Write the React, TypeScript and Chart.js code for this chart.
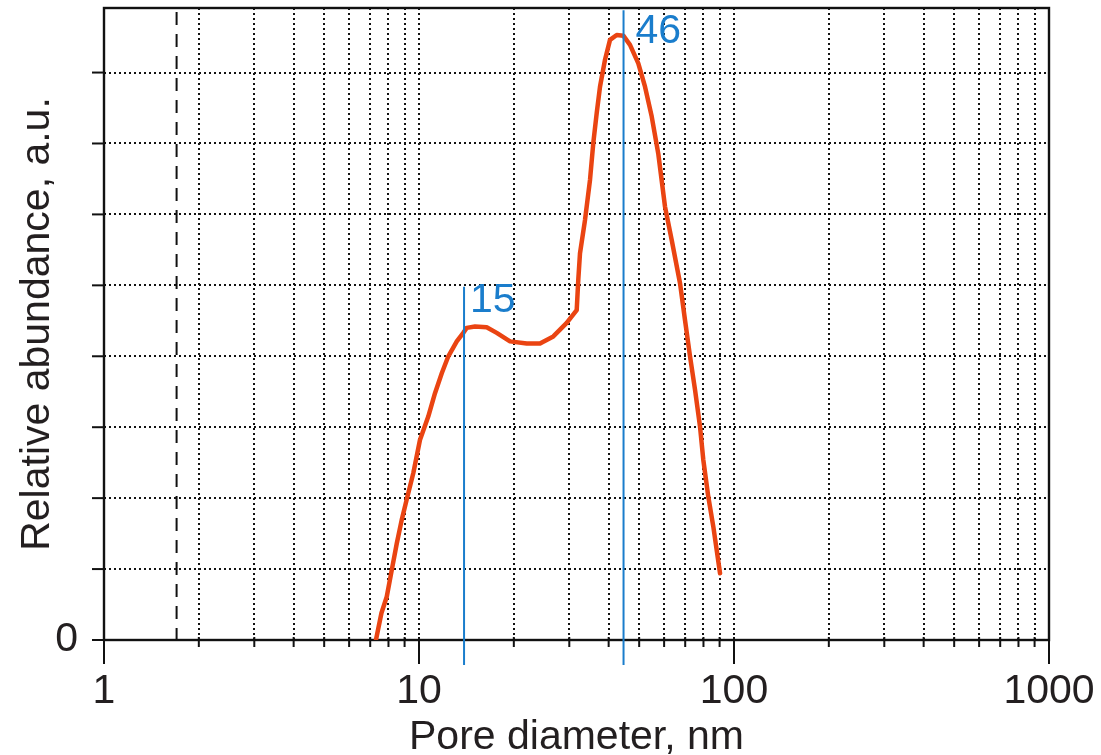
import React, { useEffect, useRef } from "react";
import { Chart, registerables } from "chart.js";

Chart.register(...registerables);

// Pore diameter (nm) and relative abundance (a.u.)
const poreDiameter = [
  7.3, 7.6, 7.9, 8.23, 8.5, 8.81, 9.14, 9.59, 10.07, 10.7, 11.24, 11.81, 12.39, 13.18,
  13.82, 14.17, 15.06, 16.4, 17.65, 19.45, 21.98, 24.22, 26.69, 29.44, 31.67, 32.04,
  32.44, 33.65, 34.91, 35.76, 36.66, 37.55, 38.95, 40.4, 42.43, 44.53, 46.76, 49.68,
  52.18, 54.8, 57.52, 60.39, 63.42, 67.4, 69.9, 72.5, 75.2, 78.0, 79.9, 82.87, 85.96, 90.3,
];
const abundance = [
  0.0, 0.38, 0.61, 1.03, 1.36, 1.69, 1.98, 2.35, 2.82, 3.15, 3.48, 3.76, 4.0, 4.21,
  4.33, 4.4, 4.42, 4.41, 4.33, 4.21, 4.18, 4.18, 4.28, 4.47, 4.65, 5.08,
  5.45, 5.92, 6.49, 7.01, 7.43, 7.8, 8.18, 8.46, 8.53, 8.52, 8.39, 8.13,
  7.8, 7.38, 6.85, 6.11, 5.64, 5.03, 4.51, 4.0, 3.53, 3.01, 2.54, 2.02, 1.6, 0.94,
];

// Axis settings
const xMin = 1;
const xMax = 1000;
const yMin = 0;
const yMax = 8.91;
const xDecadeLabels = [1, 10, 100, 1000];
const xGridValues = [
  2, 3, 4, 5, 6, 7, 8, 9, 10, 20, 30, 40, 50, 60, 70, 80, 90, 100,
  200, 300, 400, 500, 600, 700, 800, 900,
];
const yGridValues = [1, 2, 3, 4, 5, 6, 7, 8];
const yTickValues = [0, 1, 2, 3, 4, 5, 6, 7, 8];
const dashedLineX = 1.7;

// Marked peaks
const peakPositions = [13.9, 44.6];
const peakLabels = ["15", "46"];
const peakLineTops = [4.98, 8.88];
const peakLabelY = [4.79, 8.58];

const FONT = "'Liberation Sans', Arial, sans-serif";
const TEXT = "#231f20";
const RED = "#ea4412";
const BLUE = "#1a7dcc";

const decorPlugin = {
  id: "decor",
  beforeDatasetsDraw(chart: any) {
    const { ctx, chartArea } = chart;
    const xs = chart.scales.x;
    const ys = chart.scales.y;
    ctx.save();
    ctx.strokeStyle = "#111";
    ctx.lineWidth = 2;
    ctx.setLineDash([2, 3]);
    for (const v of xGridValues) {
      const px = Math.round(xs.getPixelForValue(v));
      ctx.beginPath();
      ctx.moveTo(px, chartArea.top);
      ctx.lineTo(px, chartArea.bottom);
      ctx.stroke();
    }
    for (const v of yGridValues) {
      const py = Math.round(ys.getPixelForValue(v));
      ctx.beginPath();
      ctx.moveTo(chartArea.left, py);
      ctx.lineTo(chartArea.right, py);
      ctx.stroke();
    }
    // dashed vertical line
    ctx.setLineDash([13, 9]);
    ctx.lineWidth = 2;
    const dx = xs.getPixelForValue(dashedLineX);
    ctx.beginPath();
    ctx.moveTo(dx, chartArea.top + 4);
    ctx.lineTo(dx, chartArea.bottom);
    ctx.stroke();
    ctx.setLineDash([]);

    // frame
    ctx.strokeStyle = "#111";
    ctx.lineWidth = 2.4;
    ctx.strokeRect(chartArea.left, chartArea.top, chartArea.right - chartArea.left, chartArea.bottom - chartArea.top);

    // y tick marks
    ctx.lineWidth = 2;
    for (const v of yTickValues) {
      const py = ys.getPixelForValue(v);
      ctx.beginPath();
      ctx.moveTo(chartArea.left - 12, py);
      ctx.lineTo(chartArea.left, py);
      ctx.stroke();
    }
    // x tick marks
    for (const v of xGridValues) {
      const px = xs.getPixelForValue(v);
      ctx.beginPath();
      ctx.moveTo(px, chartArea.bottom - 3);
      ctx.lineTo(px, chartArea.bottom + 7);
      ctx.stroke();
    }
    for (const v of xDecadeLabels) {
      const px = xs.getPixelForValue(v);
      ctx.beginPath();
      ctx.moveTo(px, chartArea.bottom);
      ctx.lineTo(px, chartArea.bottom + 24);
      ctx.stroke();
    }
    ctx.restore();
  },
  afterDatasetsDraw(chart: any) {
    const { ctx, chartArea } = chart;
    const xs = chart.scales.x;
    const ys = chart.scales.y;
    ctx.save();
    ctx.strokeStyle = BLUE;
    ctx.fillStyle = BLUE;
    ctx.lineWidth = 2;
    ctx.font = `41px ${FONT}`;
    ctx.textAlign = "left";
    ctx.textBaseline = "middle";
    peakPositions.forEach((v, i) => {
      const px = xs.getPixelForValue(v);
      const top = ys.getPixelForValue(peakLineTops[i]);
      ctx.beginPath();
      ctx.moveTo(px, top);
      ctx.lineTo(px, chartArea.bottom + 25);
      ctx.stroke();
      ctx.fillText(peakLabels[i], px + (i === 0 ? 6 : 12), ys.getPixelForValue(peakLabelY[i]));
    });
    ctx.restore();
  },
};

export default function App() {
  const canvasRef = useRef<HTMLCanvasElement | null>(null);

  useEffect(() => {
    document.body.style.margin = "0";
    const canvas = canvasRef.current;
    if (!canvas) return;
    const points = poreDiameter.map((d, i) => ({ x: d, y: abundance[i] }));
    const chart = new Chart(canvas, {
      type: "line",
      data: {
        datasets: [
          {
            data: points,
            borderColor: RED,
            borderWidth: 4.5,
            pointRadius: 0,
            tension: 0,
            fill: false,
            borderJoinStyle: "round",
            borderCapStyle: "round",
          },
        ],
      },
      options: {
        animation: false,
        responsive: false,
        devicePixelRatio: 1,
        layout: { padding: { left: 0, top: 8, right: 52, bottom: 0 } },
        plugins: {
          legend: { display: false },
          tooltip: { enabled: false },
        },
        scales: {
          x: {
            type: "logarithmic",
            min: xMin,
            max: xMax,
            grid: { display: false, drawTicks: false },
            border: { display: false },
            afterBuildTicks: (scale: any) => {
              scale.ticks = [1, ...xGridValues, 1000].map((v) => ({ value: v }));
            },
            afterFit: (scale: any) => {
              scale.height = 115;
              scale.paddingLeft = 0;
              scale.paddingRight = 0;
            },
            ticks: {
              autoSkip: false,
              maxRotation: 0,
              padding: 27,
              color: TEXT,
              font: { family: FONT, size: 41 },
              callback: (value: any) => (xDecadeLabels.includes(Number(value)) ? String(value) : null),
            },
            title: {
              display: true,
              text: "Pore diameter, nm",
              color: TEXT,
              font: { family: FONT, size: 41, lineHeight: 0.8 },
              padding: { top: 0, bottom: 1 },
            },
          },
          y: {
            type: "linear",
            min: yMin,
            max: yMax,
            grid: { display: false, drawTicks: false },
            border: { display: false },
            afterBuildTicks: (scale: any) => {
              scale.ticks = yTickValues.map((v) => ({ value: v }));
            },
            afterFit: (scale: any) => {
              scale.width = 104;
              scale.paddingTop = 0;
              scale.paddingBottom = 0;
            },
            ticks: {
              padding: 26,
              color: TEXT,
              font: { family: FONT, size: 41 },
              callback: (value: any) => (Number(value) === 0 ? "0" : null),
            },
            title: {
              display: true,
              text: "Relative abundance, a.u.",
              color: TEXT,
              font: { family: FONT, size: 41, lineHeight: 1.2 },
              padding: { top: 13, bottom: 0 },
            },
          },
        },
      },
      plugins: [decorPlugin],
    });
    return () => chart.destroy();
  }, []);

  return (
    <div style={{ width: 1101, height: 755 }}>
      <canvas ref={canvasRef} width={1101} height={755} />
    </div>
  );
}
